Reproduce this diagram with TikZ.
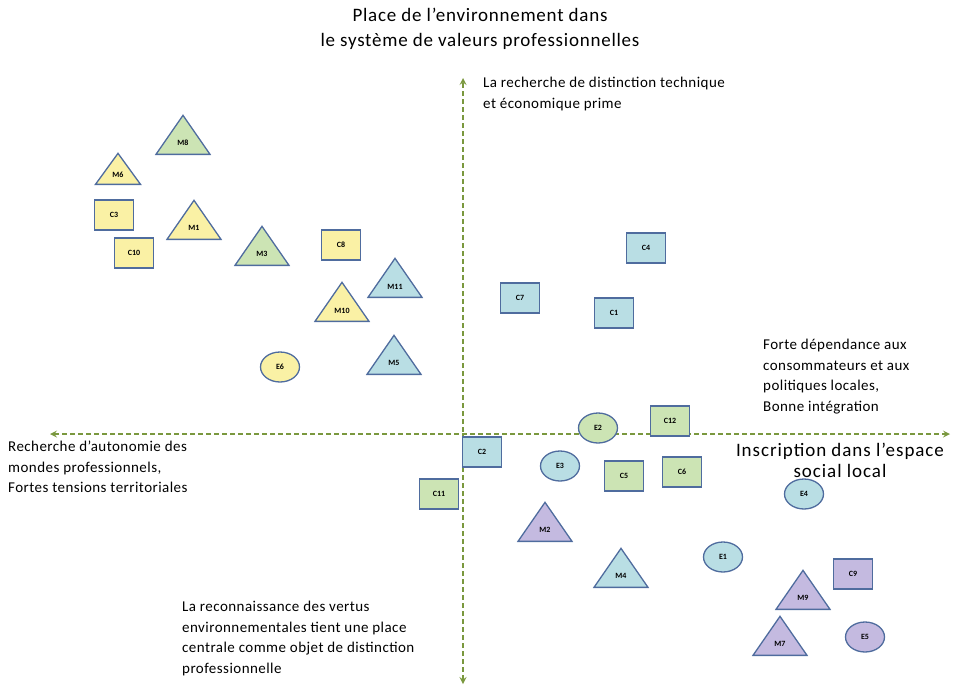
\documentclass[tikz,border=0pt]{standalone}
\usepackage{fontspec}
\setmainfont{Carlito}
\usetikzlibrary{shapes.geometric}

\definecolor{ylw}{RGB}{250,241,165}
\definecolor{grn}{RGB}{204,228,180}
\definecolor{blu}{RGB}{185,222,228}
\definecolor{prp}{RGB}{196,186,224}
\definecolor{rim}{RGB}{79,108,158}
\definecolor{axiscol}{RGB}{122,152,62}

\tikzstyle{every node}=[font=\fontsize{15}{20.5}\selectfont\addfontfeatures{LetterSpace=3}]
\tikzstyle{axisline}=[axiscol, line width=2pt, dash pattern=on 5pt off 3pt, >=stealth]
\tikzstyle{note}=[anchor=north west, align=left, inner sep=0pt]
\tikzstyle{big}=[anchor=north, align=center, inner sep=0pt]
\tikzstyle{box}=[draw=rim, line width=1.3pt, minimum width=39pt, minimum height=30pt,
                 inner sep=0pt, font=\fontsize{8}{9}\selectfont\bfseries]
\tikzstyle{oval}=[box, ellipse, minimum width=39pt, minimum height=30pt]
\tikzstyle{tri}=[draw=rim, line width=1.3pt, isosceles triangle, shape border rotate=90,
                 isosceles triangle stretches, minimum width=54pt, minimum height=39pt,
                 inner sep=0pt, anchor=lower side, font=\fontsize{8}{9}\selectfont\bfseries]

\begin{document}
\begin{tikzpicture}[x=1pt,y=-1pt]
    \useasboundingbox (0,0) rectangle (956,686);

    % axes: the two dashed arrows cross at (463,434)
    \coordinate (top) at (463,78);
    \coordinate (bottom) at (463,684);
    \coordinate (left) at (50,434);
    \coordinate (right) at (950,434);
    \draw[axisline,<->] (bottom) -- (top);
    \draw[axisline,<->] (left) -- (right);

    % the texts round the axes
    \node[big, font=\fontsize{19}{25}\selectfont\addfontfeatures{LetterSpace=4}]
        (title) at (480,8) {Place de l'environnement dans\\le système de valeurs professionnelles};
    \node[note] (toptext) at (483,77) {La recherche de distinction technique\\et économique prime};
    \node[note] (righttext) at (763,339) {Forte dépendance aux\\consommateurs et aux\\politiques locales,\\Bonne intégration};
    \node[big, font=\fontsize{19}{21}\selectfont\addfontfeatures{LetterSpace=5}]
        (rightlabel) at (840,443) {Inscription dans l'espace\\social local};
    \node[note] (lefttext) at (8,441) {Recherche d'autonomie des\\mondes professionnels,\\Fortes tensions territoriales};
    \node[note] (bottomtext) at (182,601) {La reconnaissance des vertus\\environnementales tient une place\\centrale comme objet de distinction\\professionnelle};

    % rectangles: name / colour / x / y
    \foreach \n/\c/\x/\y in {C3/ylw/114/215, C10/ylw/134/253, C8/ylw/341/245,
                            C4/blu/646/248, C7/blu/520/298, C1/blu/614/313,
                            C12/grn/670/421, C2/blu/482/452, C5/grn/624/476,
                            C6/grn/682/472, C11/grn/439/494, C9/prp/853/574}
        \node[box, fill=\c] (\n) at (\x,\y) {\n};

    % ellipses
    \foreach \n/\c/\x/\y in {E6/ylw/280/367, E2/grn/598/428, E3/blu/560/466,
                            E4/blu/804/494, E1/blu/723/557, E5/prp/865/637}
        \node[oval, fill=\c] (\n) at (\x,\y) {\n};

    % triangles, placed by the middle of their base;
    % the label is lowered towards the base as in the source
    \foreach \n/\c/\x/\y in {M8/grn/183/155, M1/ylw/194/240,
                            M3/grn/262/266, M11/blu/395/298, M10/ylw/342/322,
                            M5/blu/394/375, M2/prp/545/542, M4/blu/621/588,
                            M9/prp/803/610, M7/prp/780/656}
        \node[tri, fill=\c] (\n) at (\x,\y) {\raisebox{-6pt}{\n}};
    \node[tri, fill=ylw, minimum width=45pt, minimum height=31pt]
        (M6) at (118,185) {\raisebox{-5pt}{M6}};
\end{tikzpicture}
\end{document}
